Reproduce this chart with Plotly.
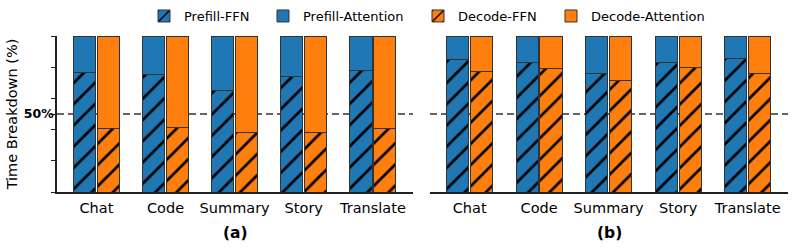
import plotly.graph_objects as go

categories = ["Chat", "Code", "Summary", "Story", "Translate"]
# Panel (a): FFN share of time (%)
a_prefill_ffn = [76.7, 75.2, 65.2, 73.9, 78.0]
a_decode_ffn = [40.8, 41.2, 38.2, 38.2, 40.6]
# Panel (b): FFN share of time (%)
b_prefill_ffn = [84.8, 82.9, 76.1, 82.9, 85.3]
b_decode_ffn = [77.4, 79.1, 71.4, 79.7, 76.1]

series_names = ["Prefill-FFN", "Prefill-Attention", "Decode-FFN", "Decode-Attention"]
blue = "#1f77b4"
orange = "#ff7f0e"
y_ticks = [0, 20, 40, 50, 60, 80, 100]
y_ticktext = ["", "", "", "<b>50%</b>", "", "", ""]
panel_labels = ["<b>(a)</b>", "<b>(b)</b>"]

W, H = 793, 248
FONT = "DejaVu Sans"
BAR_W = 0.32
OFF = 0.172

fig = go.Figure()
idx = list(range(len(categories)))
x_pre = [i - OFF for i in idx]
x_dec = [i + OFF for i in idx]
edge = dict(color="#333333", width=1)
hatch = dict(shape="/", fgcolor="black", fgopacity=1, size=15, solidity=0.18)

panels = [("x", "y", a_prefill_ffn, a_decode_ffn, True),
          ("x2", "y2", b_prefill_ffn, b_decode_ffn, False)]
legend_ids = ["legend", "legend2", "legend3", "legend4"]
for xa, ya, pre, dec, show in panels:
    pre_att = [100 - v for v in pre]
    dec_att = [100 - v for v in dec]
    specs = [
        (x_pre, pre, blue, True),
        (x_pre, pre_att, blue, False),
        (x_dec, dec, orange, True),
        (x_dec, dec_att, orange, False),
    ]
    for k, (xs, ys, col, hatched) in enumerate(specs):
        marker = dict(color=col, line=edge)
        if hatched:
            marker["pattern"] = hatch
        fig.add_trace(go.Bar(
            x=xs, y=ys, width=BAR_W, name=series_names[k], marker=marker,
            xaxis=xa, yaxis=ya, showlegend=show, legend=legend_ids[k],
        ))

fig.update_layout(
    barmode="stack",
    width=W, height=H,
    margin=dict(l=0, r=0, t=36, b=56, autoexpand=False),
    plot_bgcolor="white", paper_bgcolor="white",
    font=dict(family=FONT, color="black", size=13),
)

xcommon = dict(range=[-0.57, 4.58], tickvals=idx, ticktext=categories,
               tickfont=dict(size=14.5, family=FONT), showline=True,
               linecolor="#222", linewidth=1.5, ticks="", showgrid=False,
               ticklabelstandoff=2,
               zeroline=False, automargin=False)
fig.update_layout(
    xaxis=dict(domain=[57 / W, 413 / W], anchor="y", **xcommon),
    xaxis2=dict(domain=[430 / W, 788 / W], anchor="y2", **xcommon),
    yaxis=dict(range=[0, 100], tickvals=y_ticks, ticktext=y_ticktext,
               ticks="outside", ticklen=4, tickcolor="#222", tickwidth=1.2,
               ticklabelstandoff=-5,
               showline=True, linecolor="#222", linewidth=1.5,
               showgrid=False, zeroline=False, automargin=False,
               tickfont=dict(size=12.5, family=FONT),
               title=dict(text="Time Breakdown (%)", font=dict(size=14.5, family=FONT),
                          standoff=3)),
    yaxis2=dict(range=[0, 100], anchor="x2", showline=False, showticklabels=False,
                ticks="", showgrid=False, zeroline=False),
)

for xref in ["x domain", "x2 domain"]:
    yref = "y" if xref == "x domain" else "y2"
    fig.add_shape(type="line", xref=xref, yref=yref, x0=0, x1=1, y0=50, y1=50,
                  layer="below", line=dict(color="#333", width=1.5, dash="7px,4px"))

for xref, lab in zip(["x domain", "x2 domain"], panel_labels):
    fig.add_annotation(text=lab, xref=xref, yref="paper", x=0.5, y=-0.266,
                       showarrow=False, font=dict(size=15.5, family=FONT),
                       xanchor="center", yanchor="middle")

icon_centers = [164, 283, 438, 571]
for lid, cx in zip(legend_ids, icon_centers):
    fig.update_layout({lid: dict(x=(cx - 20) / W, xanchor="left", y=1.128, yanchor="middle",
                                 orientation="h", bgcolor="rgba(0,0,0,0)",
                                 font=dict(size=13, family=FONT))})

fig.write_html("out.html", config={"displayModeBar": False},
               post_script="document.body.style.margin='0';document.body.style.overflow='hidden';")
